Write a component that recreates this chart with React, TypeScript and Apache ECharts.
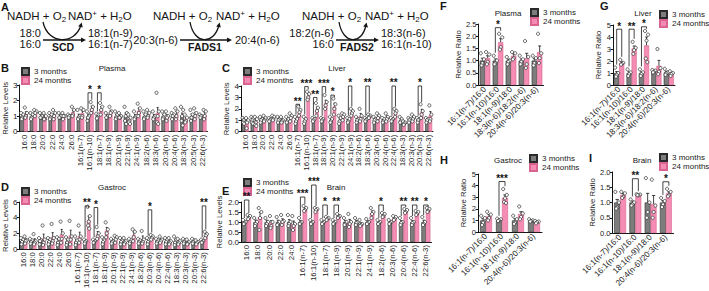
import React, { useEffect, useRef } from 'react';
import * as echarts from 'echarts';

// ---------------- DATA ----------------
const catsB = ['16:0','18:0','20:0','22:0','24:0','26:0','16:1(n-7)','16:1(n-10)','18:1(n-7)','18:1(n-9)','20:1(n-9)','22:1(n-9)','24:1(n-9)','18:2(n-6)','18:3(n-6)','20:3(n-6)','20:4(n-6)','18:3(n-3)','20:5(n-3)','22:6(n-3)'];
const b3m = [1,1,1,1,1,1,1,1,1,1,1,1,1,1,1,1,1,1,1,1];
const b3e = [0.1,0.1,0.08,0.1,0.08,0.05,0.13,0.13,0.07,0.08,0.1,0.2,0.1,0.1,0.1,0.1,0.08,0.2,0.14,0.04];
const b3p = [[1.2,1.1,0.9,0.8],[1.2,1.1,0.9,0.8],[1.2,1.0,0.9,0.9],[1.2,1.1,0.9,0.8],[1.2,1.0,0.9,0.9],[1.1,1.0,1.0,0.9],[1.4,1.0,0.9,0.8],[1.3,1.0,0.9,0.7],[1.15,1.1,0.9,0.85],[1.2,1.0,0.9,0.9],[1.3,1.1,0.9,0.8],[1.6,1.2,1.0,0.7,0.5],[1.3,1.0,0.9,0.8],[1.3,1.1,0.9,0.8],[1.3,1.0,0.9,0.8],[1.3,1.1,0.9,0.8],[1.2,1.1,1.0,0.8],[1.6,1.4,1.0,0.7,0.4],[1.4,1.1,0.9,0.7],[1.1,1.0,1.0,0.9]];
const b24m = [1.15,1.2,0.95,1.05,1.0,1.25,1.2,1.5,1.45,1.25,1.0,0.8,1.35,1.1,1.2,0.95,1.15,0.8,1.1,1.1];
const b24e = [0.13,0.1,0.1,0.13,0.09,0.13,0.14,0.15,0.16,0.13,0.08,0.12,0.17,0.11,0.35,0.13,0.15,0.1,0.15,0.14];
const b24p = [[1.55,1.2,1.0,0.9],[1.4,1.3,1.2,1.0],[1.2,1.0,0.8,0.8],[1.4,1.2,1.0,0.8],[1.2,1.0,1.0,0.8],[1.6,1.4,1.1,1.0],[1.5,1.4,1.0,0.9],[1.9,1.6,1.4,1.2],[1.85,1.6,1.4,1.1],[1.6,1.3,1.2,1.0],[1.2,1.0,0.9,0.9],[1.1,0.9,0.7,0.6,0.5],[1.8,1.5,1.2,1.0],[1.4,1.2,1.0,0.9],[2.5,1.3,1.0,0.6,0.5],[1.3,1.0,0.9,0.7],[1.5,1.3,1.0,0.8],[1.1,0.9,0.7,0.6],[1.5,1.2,1.0,0.8],[1.4,1.3,1.0,0.8]];
const bSig: [number, number, string][] = [[7,2.5,'*'],[8,2.5,'*']];

const catsC = ['16:0','18:0','20:0','22:0','24:0','26:0','16:1(n-7)','16:1(n-10)','18:1(n-7)','18:1(n-9)','20:1(n-9)','22:1(n-9)','24:1(n-9)','18:2(n-6)','18:3(n-6)','20:3(n-6)','20:4(n-6)','22:4(n-6)','18:3(n-3)','20:3(n-3)','20:5(n-3)','22:6(n-3)'];
const c3m = [1,1,1,1,1,1,1,1,1,1,1,1,1,1,1,1,1,1,1,1,1,1];
const c3e = [0.1,0.12,0.1,0.07,0.1,0.11,0.13,0.13,0.07,0.07,0.11,0.15,0.09,0.1,0.07,0.1,0.09,0.07,0.11,0.08,0.08,0.08];
const c3p = [[1.2,1.1,1.0,0.8,0.7],[1.3,1.2,1.0,0.8,0.7],[1.3,1.1,1.0,0.8],[1.2,1.1,1.0,0.9],[1.3,1.1,1.0,0.8],[1.3,1.1,0.9,0.8],[1.3,1.1,0.9,0.7],[1.3,1.1,0.9,0.7],[1.2,1.1,1.0,0.9],[1.2,1.1,1.0,0.9],[1.3,1.1,0.9,0.8],[1.4,1.2,0.9,0.7],[1.2,1.1,0.9,0.8],[1.3,1.1,1.0,0.8],[1.2,1.1,1.0,0.9],[1.3,1.1,1.0,0.8],[1.2,1.1,0.9,0.8],[1.2,1.1,1.0,0.9],[1.3,1.1,0.9,0.8],[1.2,1.1,1.0,0.8],[1.2,1.1,1.0,0.8],[1.2,1.1,1.0,0.8]];
const c24m = [0.85,0.9,1.15,1.2,1.0,1.25,1.8,3.15,1.95,2.5,2.2,1.35,1.7,1.35,1.35,1.3,1.25,1.65,0.75,1.2,1.7,1.45];
const c24e = [0.2,0.15,0.1,0.09,0.11,0.15,0.17,0.15,0.22,0.26,0.3,0.13,0.13,0.25,0.06,0.15,0.15,0.15,0.06,0.13,0.26,0.32];
const c24p = [[1.2,1.0,0.8,0.3],[1.3,1.1,0.8,0.6,0.5],[1.4,1.2,1.0,0.9],[1.4,1.3,1.1,1.0],[1.3,1.0,0.9,0.8],[1.6,1.4,1.2,0.9],[2.2,1.9,1.7,1.4],[3.5,3.3,3.0,2.8],[2.5,2.1,1.8,1.4],[3.2,2.6,2.3,2.0],[2.9,2.4,2.0,1.5],[1.6,1.5,1.3,1.0],[2.0,1.8,1.6,1.4],[2.0,1.4,1.1,0.9],[1.5,1.4,1.3,1.2],[1.6,1.4,1.2,0.9],[1.6,1.3,1.1,0.9],[2.0,1.8,1.6,1.3],[0.9,0.8,0.7,0.6],[1.5,1.3,1.1,0.9],[2.4,1.8,1.5,1.2],[2.3,1.5,1.1,0.9]];
const cSig: [number, number, string][] = [[6,2.4,'**'],[7,3.95,'***'],[8,3.0,'**'],[9,3.95,'***'],[10,3.2,'*'],[12,4.0,'*'],[14,4.0,'**'],[17,4.0,'**'],[20,4.0,'*']];

const catsD = ['16:0','18:0','20:0','22:0','24:0','26:0','16:1(n-7)','16:1(n-10)','18:1(n-7)','18:1(n-9)','20:1(n-9)','22:1(n-9)','24:1(n-9)','18:2(n-6)','20:3(n-6)','20:4(n-6)','22:4(n-6)','18:3(n-3)','20:3(n-3)','20:5(n-3)','22:6(n-3)'];
const d3m = [1,1,1,1,1,1,1,1,1,1,1,1,1,1,1,1,1,1,1,1,1];
const d3e = [0.14,0.13,0.16,0.17,0.2,0.2,0.22,0.1,0.08,0.19,0.12,0.17,0.13,0.13,0.17,0.13,0.17,0.23,0.13,0.13,0.09];
const d3p = [[1.4,1.2,0.9,0.6],[1.3,1.1,0.9,0.7],[1.4,1.1,1.0,0.6],[1.4,1.2,0.9,0.6],[1.5,1.3,0.8,0.5],[1.5,1.2,0.8,0.5],[1.6,1.1,0.8,0.5],[1.2,1.0,0.9,0.7],[1.2,1.0,0.9,0.8],[1.5,1.1,0.9,0.6],[1.3,1.0,0.9,0.7],[1.4,1.1,0.9,0.6],[1.3,1.1,0.9,0.7],[1.3,1.1,0.9,0.7],[1.4,1.2,0.9,0.6],[1.3,1.1,0.9,0.7],[1.4,1.2,0.9,0.6],[1.6,1.2,0.8,0.5],[1.3,1.1,0.9,0.7],[1.3,1.1,0.9,0.7],[1.2,1.0,0.9,0.8]];
const d24m = [1.1,1.05,1.35,1.55,1.9,1.75,1.65,3.7,1.9,2.35,1.3,0.95,1.8,1.3,1.5,1.15,0.95,0.95,0.85,0.85,1.8];
const d24e = [0.2,0.26,0.55,0.55,0.6,0.65,0.5,0.5,0.33,0.4,0.2,0.17,0.35,0.37,0.13,0.17,0.17,0.15,0.13,0.11,0.17];
const d24p = [[1.6,1.1,1.0,0.7],[1.9,1.0,0.8,0.6],[3.0,1.2,0.8,0.5],[3.2,1.4,1.0,0.7],[3.5,2.0,1.3,0.8],[3.6,1.6,1.2,0.6],[3.0,1.6,1.2,0.8],[5.4,4.2,3.5,3.0,2.6],[2.8,2.0,1.6,1.3],[3.4,2.5,2.0,1.5],[1.7,1.5,1.2,0.8],[1.4,1.0,0.8,0.6],[2.5,2.2,1.5,1.0],[2.3,1.2,0.9,0.7],[1.8,1.6,1.4,1.2],[1.6,1.2,1.0,0.8],[1.4,1.0,0.8,0.6],[1.3,1.0,0.8,0.6],[1.2,0.9,0.7,0.6],[1.1,0.9,0.8,0.6],[2.2,1.9,1.7,1.4]];
const dSig: [number, number, string][] = [[7,5.5,'**'],[8,5.3,'*'],[14,5.0,'*'],[20,5.5,'**']];

const catsE = ['16:0','18:0','20:0','22:0','24:0','16:1(n-7)','16:1(n-10)','18:1(n-7)','18:1(n-9)','20:1(n-9)','22:1(n-9)','24:1(n-9)','18:2(n-6)','20:3(n-6)','20:4(n-6)','22:4(n-6)','22:6(n-3)'];
const e3m = [1,1,1,1,1,1,1,1,1,1,1,1,1,1,1,1,1];
const e3e = [0.04,0.1,0.09,0.09,0.12,0.07,0.05,0.05,0.05,0.08,0.08,0.06,0.04,0.05,0.07,0.07,0.09];
const e3p = [[1.1,1.0,0.95,0.9],[1.2,1.0,0.9,0.8],[1.2,1.0,0.9,0.8],[1.25,1.0,0.9,0.85],[1.35,1.0,0.9,0.8],[1.2,1.0,0.95,0.9],[1.1,1.0,0.95,0.9],[1.1,1.0,0.95,0.9],[1.1,1.0,0.95,0.9],[1.2,1.0,0.9,0.85],[1.2,1.0,0.95,0.85],[1.15,1.0,0.95,0.9],[1.1,1.0,0.95,0.9],[1.1,1.0,0.95,0.9],[1.2,1.0,0.95,0.85],[1.2,1.0,0.95,0.85],[1.25,1.0,0.9,0.85]];
const e24m = [1.25,1.25,0.95,1.05,0.9,1.65,1.6,1.17,1.3,1.0,0.9,1.45,1.35,1.2,1.55,1.45,1.6];
const e24e = [0.05,0.23,0.12,0.11,0.15,0.06,0.04,0.03,0.05,0.13,0.06,0.1,0.04,0.04,0.04,0.04,0.05];
const e24p = [[1.35,1.3,1.2,1.15],[1.7,1.5,1.2,0.6],[1.3,1.0,0.8,0.7],[1.35,1.05,1.0,0.85],[1.3,0.9,0.8,0.6],[1.8,1.7,1.6,1.55],[1.7,1.65,1.6,1.5],[1.25,1.2,1.15,1.1],[1.4,1.3,1.25,1.2],[1.4,1.0,0.9,0.75],[1.1,0.9,0.85,0.8],[1.7,1.5,1.4,1.2],[1.45,1.4,1.3,1.25],[1.3,1.25,1.15,1.1],[1.65,1.6,1.5,1.45],[1.55,1.5,1.4,1.35],[1.7,1.65,1.55,1.5]];
const eSig: [number, number, string][] = [[0,2.1,'**'],[5,2.25,'***'],[6,2.85,'***'],[7,1.85,'*'],[8,1.85,'**'],[12,1.85,'*'],[14,1.85,'**'],[15,1.85,'**'],[16,1.85,'*']];

const catsF = ['16:1(n-7)/16:0','16:1(n-10)/16:0','18:1(n-9)/18:0','18:3(n-6)/18:2(n-6)','20:4(n-6)/20:3(n-6)'];
const f3m = [1,1,1,1,1];
const f3e = [0.1,0.07,0.06,0.07,0.08];
const f3p = [[1.3,1.05,0.9,0.8],[1.2,1.0,0.9,0.85],[1.15,1.0,0.95,0.85],[1.2,1.05,0.95,0.85],[1.2,1.1,0.9,0.8]];
const f24m = [1.1,1.75,1.2,1.1,1.35];
const f24e = [0.1,0.15,0.08,0.2,0.25];
const f24p = [[1.35,1.25,0.95,0.85],[2.1,1.95,1.55,1.45],[1.35,1.3,1.1,1.05],[1.8,1.15,0.85,0.7],[2.1,1.3,1.1,0.9]];
const fSig: [number, number, string][] = [[1,2.35,'*']];

const catsG = ['16:1(n-7)/16:0','16:1(n-10)/16:0','18:1(n-9)/18:0','18:3(n-6)/18:2(n-6)','20:4(n-6)/20:3(n-6)'];
const g3m = [1,1,1,1.15,1.05];
const g3e = [0.12,0.1,0.1,0.05,0.1];
const g3p = [[1.45,1.0,0.85,0.7],[1.3,1.05,0.9,0.75],[1.3,1.05,0.9,0.75],[1.25,1.2,1.1,1.05],[1.35,1.05,0.95,0.85]];
const g24m = [1.85,3.05,3.3,1.6,0.95];
const g24e = [0.08,0.2,0.7,0.45,0.08];
const g24p = [[2.1,1.85,1.75,1.7],[3.6,3.1,2.9,2.6],[4.5,4.2,3.7,2.2,1.9],[3.0,1.4,1.1,0.9],[1.15,1.0,0.9,0.75]];
const gSig: [number, number, string][] = [[0,4.65,'*'],[1,4.65,'**'],[2,4.85,'*']];

const catsH = ['16:1(n-7)/16:0','16:1(n-10)/16:0','18:1(n-9)/18:0','20:4(n-6)/20:3(n-6)'];
const h3m = [1,1.05,1,1];
const h3e = [0.15,0.05,0.15,0.05];
const h3p = [[1.4,1.2,0.8,0.6],[1.15,1.1,1.0,0.95],[1.4,1.1,0.8,0.7],[1.1,1.0,0.95,0.9]];
const h24m = [1.35,2.95,1.55,0.85];
const h24e = [0.15,0.25,0.2,0.05];
const h24p = [[1.75,1.5,1.2,1.0],[3.7,3.2,2.9,2.6,2.5],[2.2,1.6,1.3,1.1],[0.95,0.9,0.85,0.75]];
const hSig: [number, number, string][] = [[1,4.35,'***']];

const catsI = ['16:1(n-7)/16:0','16:1(n-10)/16:0','18:1(n-9)/18:0','20:4(n-6)/20:3(n-6)'];
const i3m = [1,1,1,1];
const i3e = [0.1,0.05,0.3,0.06];
const i3p = [[1.35,1.0,0.85,0.8],[1.1,1.0,0.95,0.9],[1.8,1.0,0.7,0.5],[1.15,1.05,0.95,0.85]];
const i24m = [1.25,1.25,0.95,1.3];
const i24e = [0.05,0.01,0.28,0.05];
const i24p = [[1.35,1.3,1.2,1.15],[1.27,1.26,1.25,1.24],[1.75,0.9,0.7,0.5],[1.45,1.35,1.25,1.2]];
const iSig: [number, number, string][] = [[1,1.78,'**'],[3,1.68,'*']];

const legendNames = ['3 months', '24 months'];

// ---------------- STYLE / LAYOUT ----------------
const FONT = "'Liberation Sans', Arial, Helvetica, sans-serif";
const INK = '#151515';
const GRAY = '#7d7d7d', GRAY_B = '#2a2a2a';
const PINK = '#f48cb3', PINK_B = '#d9648f';
const JIT = [-0.3, 0.3, 0, -0.15, 0.15];

type Panel = {
  cats: string[]; m3: number[]; e3: number[]; p3: number[][]; m24: number[]; e24: number[]; p24: number[][];
  sig: [number, number, string][]; grid: any; max: number; step: number; dec: number; rot: number; gap: number;
  yName: string; nameGap: number; ylab: number; title: string; tx: number; ty: number; lx: number; ly: number;
  letter: string; px: number; py: number;
};

const panels: Panel[] = [
  { cats: catsB, m3: b3m, e3: b3e, p3: b3p, m24: b24m, e24: b24e, p24: b24p, sig: bSig,
    grid: { left: 16.5, top: 85, width: 191, height: 46.7 }, max: 3, step: 1, dec: 0, rot: 90, gap: 0.2,
    yName: 'Relative Levels', nameGap: 7, ylab: 8, title: 'Plasma', tx: 112, ty: 68, lx: 21, ly: 67, letter: 'B', px: 1, py: 68 },
  { cats: catsC, m3: c3m, e3: c3e, p3: c3p, m24: c24m, e24: c24e, p24: c24p, sig: cSig,
    grid: { left: 241, top: 86, width: 192, height: 45.7 }, max: 4, step: 1, dec: 0, rot: 90, gap: 0.2,
    yName: 'Relative Levels', nameGap: 9, ylab: 8, title: 'Liver', tx: 337, ty: 68, lx: 243, ly: 67, letter: 'C', px: 222, py: 68 },
  { cats: catsD, m3: d3m, e3: d3e, p3: d3p, m24: d24m, e24: d24e, p24: d24p, sig: dSig,
    grid: { left: 17, top: 202, width: 191.5, height: 48 }, max: 6, step: 2, dec: 0, rot: 90, gap: 0.2,
    yName: 'Relative Levels', nameGap: 7, ylab: 8, title: 'Gastroc', tx: 112, ty: 187, lx: 21, ly: 187, letter: 'D', px: 1, py: 187 },
  { cats: catsE, m3: e3m, e3: e3e, p3: e3p, m24: e24m, e24: e24e, p24: e24p, sig: eSig,
    grid: { left: 241, top: 202, width: 190.5, height: 40 }, max: 2, step: 0.5, dec: 1, rot: 90, gap: 0.2,
    yName: 'Relative Levels', nameGap: 16, ylab: 8, title: 'Brain', tx: 336, ty: 187, lx: 243, ly: 178, letter: 'E', px: 222, py: 191 },
  { cats: catsF, m3: f3m, e3: f3e, p3: f3p, m24: f24m, e24: f24e, p24: f24p, sig: fSig,
    grid: { left: 478.5, top: 24, width: 65, height: 61 }, max: 2.5, step: 0.5, dec: 1, rot: 45, gap: 0.18,
    yName: 'Relative Ratio', nameGap: 12.5, ylab: 7.5, title: 'Plasma', tx: 508, ty: 13, lx: 530, ly: 8, letter: 'F', px: 440, py: 6 },
  { cats: catsG, m3: g3m, e3: g3e, p3: g3p, m24: g24m, e24: g24e, p24: g24p, sig: gSig,
    grid: { left: 613, top: 25, width: 62, height: 60 }, max: 5, step: 1, dec: 0, rot: 45, gap: 0.18,
    yName: 'Relative Ratio', nameGap: 10.5, ylab: 7.5, title: 'Liver', tx: 643, ty: 13, lx: 659, ly: 10, letter: 'G', px: 600, py: 6 },
  { cats: catsH, m3: h3m, e3: h3e, p3: h3p, m24: h24m, e24: h24e, p24: h24p, sig: hSig,
    grid: { left: 478, top: 174, width: 64, height: 58 }, max: 5, step: 1, dec: 0, rot: 45, gap: 0.25,
    yName: 'Relative Ratio', nameGap: 11, ylab: 7.5, title: 'Gastroc', tx: 508, ty: 160, lx: 529, ly: 154, letter: 'H', px: 440, py: 160 },
  { cats: catsI, m3: i3m, e3: i3e, p3: i3p, m24: i24m, e24: i24e, p24: i24p, sig: iSig,
    grid: { left: 612.5, top: 172, width: 61, height: 61 }, max: 2, step: 0.5, dec: 1, rot: 45, gap: 0.22,
    yName: 'Relative Ratio', nameGap: 16.5, ylab: 7.5, title: 'Brain', tx: 642, ty: 160, lx: 659, ly: 153, letter: 'I', px: 589, py: 158 },
];

function makeRender(p: Panel) {
  return (_params: any, api: any) => {
    const i = api.value(0) as number;
    const c = api.coord([i, 0]);
    const band = api.size([1, 0])[0];
    const bw = (band * (1 - p.gap)) / 2;
    const xs = [c[0] - bw / 2, c[0] + bw / 2];
    const sets: [number, number, number[]][] = [[p.m3[i], p.e3[i], p.p3[i]], [p.m24[i], p.e24[i], p.p24[i]]];
    const children: any[] = [];
    const tops: number[] = [];
    sets.forEach(([m, e, pts], s) => {
      const x = xs[s];
      const y0 = api.coord([i, m])[1];
      const y1 = api.coord([i, m + e])[1];
      children.push({ type: 'line', shape: { x1: x, y1: y0, x2: x, y2: y1 }, style: { stroke: INK, lineWidth: 0.8 } });
      children.push({ type: 'line', shape: { x1: x - bw * 0.28, y1: y1, x2: x + bw * 0.28, y2: y1 }, style: { stroke: INK, lineWidth: 0.8 } });
      pts.forEach((v, k) => {
        const y = api.coord([i, v])[1];
        children.push({ type: 'circle', shape: { cx: x + JIT[k % JIT.length] * bw, cy: y, r: 1.6 }, style: { fill: '#fff', stroke: '#222', lineWidth: 0.7 } });
      });
      tops.push(Math.max(m + e, ...pts));
    });
    p.sig.forEach(([k, top, stars]) => {
      if (k !== i) return;
      const pad = p.max * 0.05;
      const yT = api.coord([i, top])[1];
      const yL = Math.max(api.coord([i, tops[0] + pad])[1], yT + 2);
      const yR = Math.max(api.coord([i, tops[1] + pad])[1], yT + 2);
      children.push({ type: 'polyline', shape: { points: [[xs[0], yL], [xs[0], yT], [xs[1], yT], [xs[1], yR]] }, style: { stroke: INK, lineWidth: 0.8, fill: 'none' } });
      children.push({ type: 'text', style: { text: stars, x: c[0], y: yT - 3.2, font: `bold 10px ${FONT}`, fill: INK, textAlign: 'center', align: 'center', textVerticalAlign: 'middle', verticalAlign: 'middle' } });
    });
    return { type: 'group', children };
  };
}

function head(tx: number, ty: number, dx: number, dy: number, len = 4, half = 2.2) {
  const n = Math.hypot(dx, dy);
  const ux = dx / n, uy = dy / n;
  const bx = tx - ux * len, by = ty - uy * len;
  return { type: 'polygon', silent: true, shape: { points: [[tx, ty], [bx - uy * half, by + ux * half], [bx + uy * half, by - ux * half]] }, style: { fill: INK } };
}

function txt(x: number, y: number, text: string, size: number, align = 'left', bold = false) {
  return {
    type: 'text', x, y, silent: true,
    style: { text, fill: INK, font: `${bold ? 'bold ' : ''}${size}px ${FONT}`, textAlign: align, align, textVerticalAlign: 'middle', verticalAlign: 'middle' },
  };
}

const RICH = {
  a: { fontSize: 11.5, fontFamily: FONT, fill: INK, lineHeight: 14 },
  s: { fontSize: 8, fontFamily: FONT, fill: INK, verticalAlign: 'bottom' },
  u: { fontSize: 8, fontFamily: FONT, fill: INK, verticalAlign: 'top' },
};
function richTxt(x: number, y: number, text: string) {
  return { type: 'text', x, y, silent: true, style: { text, rich: RICH, fill: INK, textAlign: 'left', align: 'left', textVerticalAlign: 'middle', verticalAlign: 'middle' } };
}
const NADH = '{a|NADH + O}{s|2}';
const NADP = '{a|NAD}{u|+}{a| + H}{s|2}{a|O}';

function reaction(r: { nadhX: number; nadX: number; subs: [string, number][]; subX: number; x1: number; x2: number; enzyme: string; ex: number; prods: [string, number][]; prodX: number; c: number[] }) {
  const els: any[] = [];
  els.push(richTxt(r.nadhX, 16, NADH));
  els.push(richTxt(r.nadX, 16, NADP));
  r.subs.forEach(([t, y]) => els.push(txt(r.subX, y, t, 11, 'right')));
  r.prods.forEach(([t, y]) => els.push(txt(r.prodX, y, t, 11, 'left')));
  els.push({ type: 'line', silent: true, shape: { x1: r.x1, y1: 40, x2: r.x2, y2: 40 }, style: { stroke: INK, lineWidth: 1.4 } });
  els.push(head(r.x2 + 4, 40, 1, 0, 5, 2.4));
  els.push(txt(r.ex, 46.5, r.enzyme, 10.5, 'center', true));
  const [sx, sy, c1x, c1y, c2x, c2y, ex, ey] = r.c;
  els.push({ type: 'bezierCurve', silent: true, shape: { x1: sx, y1: sy, cpx1: c1x, cpy1: c1y, cpx2: c2x, cpy2: c2y, x2: ex, y2: ey }, style: { stroke: INK, lineWidth: 1.3, fill: 'none' } });
  els.push(head(ex + (ex - c2x) * 0.12, ey + (ey - c2y) * 0.12, ex - c2x, ey - c2y, 4.5, 2.4));
  return els;
}

function buildOption() {
  const graphic: any[] = [];
  graphic.push(txt(1, 6.5, 'A', 11, 'left', true));
  graphic.push(...reaction({ nadhX: 7, nadX: 68, subs: [['18:0', 33], ['16:0', 44]], subX: 41, x1: 43, x2: 82, enzyme: 'SCD', ex: 63, prods: [['18:1(n-9)', 33], ['16:1(n-7)', 44]], prodX: 88, c: [43, 22, 48, 45, 75, 45, 81, 25] }));
  graphic.push(...reaction({ nadhX: 153, nadX: 216, subs: [['20:3(n-6)', 40]], subX: 178, x1: 180, x2: 228, enzyme: 'FADS1', ex: 205, prods: [['20:4(n-6)', 40]], prodX: 235, c: [190, 22, 194, 45, 214, 45, 219, 25] }));
  graphic.push(...reaction({ nadhX: 302, nadX: 365, subs: [['18:2(n-6)', 33], ['16:0', 44]], subX: 334, x1: 336, x2: 375, enzyme: 'FADS2', ex: 357, prods: [['18:3(n-6)', 33], ['16:1(n-10)', 44]], prodX: 381, c: [339, 22, 343, 45, 362, 45, 366, 25] }));
  panels.forEach((p) => {
    graphic.push(txt(p.px, p.py, p.letter, 11, 'left', true));
    graphic.push(txt(p.tx, p.ty, p.title, 8, 'center'));
  });

  const series: any[] = [];
  panels.forEach((p, k) => {
    const cg = `${Math.round(p.gap * 100)}%`;
    series.push({ type: 'bar', name: legendNames[0], xAxisIndex: k, yAxisIndex: k, data: p.m3, barGap: '0%', barCategoryGap: cg, itemStyle: { color: GRAY, borderColor: GRAY_B, borderWidth: 0.6 }, silent: true });
    series.push({ type: 'bar', name: legendNames[1], xAxisIndex: k, yAxisIndex: k, data: p.m24, barGap: '0%', barCategoryGap: cg, itemStyle: { color: PINK, borderColor: PINK_B, borderWidth: 0.6 }, silent: true });
    series.push({ type: 'custom', name: 'pts' + k, xAxisIndex: k, yAxisIndex: k, data: p.cats.map((_, i) => [i, 0]), encode: { x: 0, y: 1 }, renderItem: makeRender(p), clip: false, z: 5, silent: true });
  });

  return {
    animation: false,
    backgroundColor: '#fff',
    textStyle: { fontFamily: FONT },
    grid: panels.map((p) => ({ ...p.grid, containLabel: false })),
    xAxis: panels.map((p, k) => ({
      type: 'category', gridIndex: k, data: p.cats,
      axisLine: { lineStyle: { color: INK, width: 1 } }, axisTick: { show: false },
      axisLabel: { rotate: p.rot, interval: 0, fontSize: p.rot === 90 ? 7.8 : 8.2, color: '#222', margin: 3, fontFamily: FONT },
    })),
    yAxis: panels.map((p, k) => ({
      type: 'value', gridIndex: k, min: 0, max: p.max, interval: p.step,
      axisLine: { show: true, lineStyle: { color: INK, width: 1 } },
      axisTick: { show: true, length: 2.5, lineStyle: { color: INK } },
      splitLine: { show: false },
      axisLabel: { fontSize: p.ylab, color: '#222', margin: 2, fontFamily: FONT, formatter: (v: number) => (p.dec ? v.toFixed(1) : String(v)) },
      name: p.yName, nameLocation: 'middle', nameGap: p.nameGap,
      nameTextStyle: { fontSize: 7.8, color: '#222', fontFamily: FONT },
    })),
    legend: panels.map((p) => ({
      data: legendNames, left: p.lx, top: p.ly, orient: 'vertical', icon: 'rect',
      itemWidth: 7, itemHeight: 7, itemGap: 0, padding: 0, selectedMode: false,
      textStyle: { fontSize: 8, color: '#222', fontFamily: FONT, lineHeight: 9 },
    })),
    graphic,
    series,
  };
}

export default function App() {
  const ref = useRef<HTMLDivElement>(null);
  useEffect(() => {
    const chart = echarts.init(ref.current!, null, { renderer: 'svg' });
    chart.setOption(buildOption() as any);
    return () => chart.dispose();
  }, []);
  return <div ref={ref} style={{ position: 'absolute', left: 0, top: 0, width: 709, height: 291, background: '#fff' }} />;
}
